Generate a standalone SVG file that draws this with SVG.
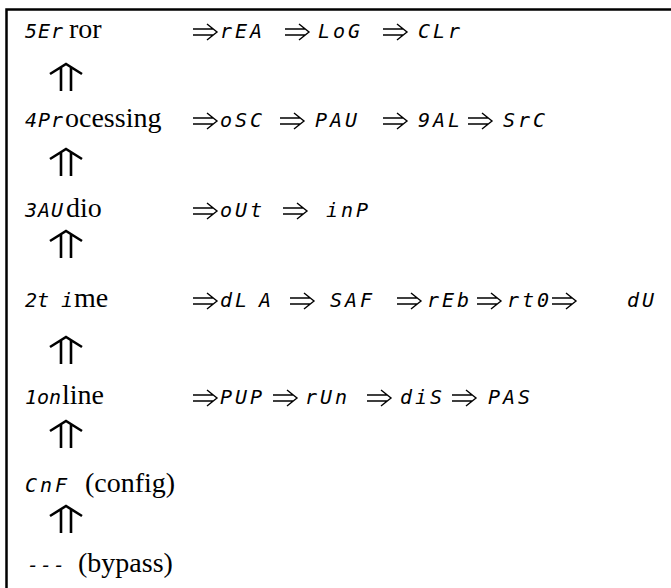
<svg xmlns="http://www.w3.org/2000/svg" width="671" height="588" viewBox="0 0 671 588">
<style>
.seg{font-family:"DejaVu Sans Mono","Liberation Mono",monospace;font-style:oblique;font-size:20px;letter-spacing:3px;fill:#000}
.lbl{letter-spacing:1px}
.ser{font-family:"Liberation Serif","DejaVu Serif",serif;font-size:28px;fill:#000}
.imp{fill:none;stroke:#000;stroke-width:1.4}
.up{fill:none;stroke:#000;stroke-width:2.6}
</style>
<defs>
<path id="imp" class="imp" d="M0,-3H20M0,3H20M14,-8L24,0L14,8"/>
<path id="up" class="up" d="M-16,10L0,0L16,10M-5,3V27M5,3V27"/>
</defs>
<rect x="6.5" y="9.5" width="680" height="600" fill="none" stroke="#000" stroke-width="2.5"/>
<g id="r5"><text x="25" y="38" class="seg lbl">5Er</text><text x="69" y="38" class="ser">ror</text></g>
<g id="n-rEA"><text x="220" y="38" class="seg">rEA</text></g>
<g id="n-LoG"><text x="318" y="38" class="seg">LoG</text></g>
<g id="n-CLr"><text x="418" y="38" class="seg">CLr</text></g>
<g id="r4"><text x="25" y="127" class="seg lbl">4Pr</text><text x="65" y="127" class="ser">ocessing</text></g>
<g id="n-oSC"><text x="220" y="127" class="seg">oSC</text></g>
<g id="n-PAU"><text x="315" y="127" class="seg">PAU</text></g>
<g id="n-9AL"><text x="418" y="127" class="seg">9AL</text></g>
<g id="n-SrC"><text x="503" y="127" class="seg">SrC</text></g>
<g id="r3"><text x="25" y="217" class="seg lbl">3AU</text><text x="66" y="217" class="ser">dio</text></g>
<g id="n-oUt"><text x="220" y="217" class="seg">oUt</text></g>
<g id="n-inP"><text x="326" y="217" class="seg">inP</text></g>
<g id="r2"><text x="25" y="307" class="seg" style="letter-spacing:0">2t i</text><text x="74" y="307" class="ser">me</text></g>
<g id="n-dLA"><text x="220" y="307" class="seg">dL<tspan dx="9">A</tspan></text></g>
<g id="n-SAF"><text x="330" y="307" class="seg">SAF</text></g>
<g id="n-rEb"><text x="427" y="307" class="seg">rEb</text></g>
<g id="n-rt0"><text x="507" y="307" class="seg">rt0</text></g>
<g id="n-dU"><text x="627" y="307" class="seg">dU</text></g>
<g id="r1"><text x="25" y="404" class="seg" style="letter-spacing:0">1on</text><text x="62" y="404" class="ser">line</text></g>
<g id="n-PUP"><text x="220" y="404" class="seg">PUP</text></g>
<g id="n-rUn"><text x="305" y="404" class="seg">rUn</text></g>
<g id="n-diS"><text x="400" y="404" class="seg">diS</text></g>
<g id="n-PAS"><text x="488" y="404" class="seg">PAS</text></g>
<g id="cnf"><text x="25" y="492" class="seg">CnF</text><text x="85" y="492" class="ser">(config)</text></g>
<g id="bypass"><text x="27" y="572" class="seg lbl">---</text><text x="78" y="572" class="ser">(bypass)</text></g>
<g id="connectors">
<use href="#imp" x="193" y="32"/><use href="#imp" x="285" y="32"/><use href="#imp" x="383" y="32"/>
<use href="#imp" x="193" y="121"/><use href="#imp" x="280" y="121"/><use href="#imp" x="383" y="121"/><use href="#imp" x="468" y="121"/>
<use href="#imp" x="193" y="211"/><use href="#imp" x="283" y="211"/>
<use href="#imp" x="193" y="301"/><use href="#imp" x="290" y="301"/><use href="#imp" x="397" y="301"/><use href="#imp" x="477" y="301"/><use href="#imp" x="552" y="301"/>
<use href="#imp" x="193" y="398"/><use href="#imp" x="273" y="398"/><use href="#imp" x="367" y="398"/><use href="#imp" x="452" y="398"/>
<use href="#up" x="66" y="64"/><use href="#up" x="66" y="149"/><use href="#up" x="66" y="231"/><use href="#up" x="66" y="337"/><use href="#up" x="66" y="421"/><use href="#up" x="66" y="506"/>
</g>
</svg>
